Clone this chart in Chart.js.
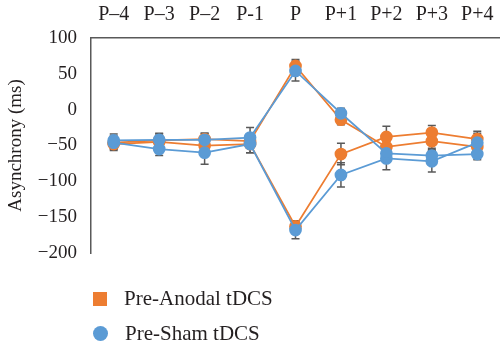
<!DOCTYPE html>
<html lang="en">
<head>
<meta charset="UTF-8">
<title>Asynchrony</title>
<script src="https://cdn.jsdelivr.net/npm/chart.js"></script>
<style>
    body { margin: 0; background: #fff; }
    .wrap { position: relative; width: 500px; height: 348px; overflow: hidden; }
    .legend {
        position: absolute; left: 93px; top: 281px;
        font-family: "Liberation Serif", "DejaVu Serif", serif;
        font-size: 21px; color: #231f20;
    }
    .item { display: flex; align-items: center; height: 35px; }
    .sw { width: 14px; height: 14px; margin-right: 17px; }
</style>
</head>
<body>
<div class="wrap">
    <canvas id="graf" width="500" height="348"></canvas>
    <div class="legend">
        <div class="item"><span class="sw" style="background:#ED7D31"></span>Pre-Anodal tDCS</div>
        <div class="item"><span class="sw" style="background:#5B9BD5;border-radius:50%;width:15px;height:15px"></span>Pre-Sham tDCS</div>
    </div>
</div>
<script>
    const categorias = ['P–4', 'P–3', 'P–2', 'P-1', 'P', 'P+1', 'P+2', 'P+3', 'P+4'];
    const yTicks = [100, 50, 0, -50, -100, -150, -200];

    // two curves per condition: one peaks at P, the other dips at P
    const anodalArriba = [-46, -43, -41, -44, 61, -14, -52, -44, -52];
    const anodalAbajo = [-48, -45, -50, -48, -163, -62, -38, -32, -41];
    const shamArriba = [-43, -42, -42, -39, 54, -5, -61, -64, -62];
    const shamAbajo = [-46, -55, -60, -48, -168, -91, -68, -72, -46];

    const errAnodalArriba = [9, 9, 8, 8, 9, 7, 8, 10, 8];
    const errAnodalAbajo = [9, 9, 9, 12, 8, 15, 15, 10, 11];
    const errShamArriba = [9, 9, 9, 14, 14, 7, 8, 8, 8];
    const errShamAbajo = [9, 9, 16, 12, 12, 17, 16, 15, 13];

    const naranja = '#ED7D31';
    const azul = '#5B9BD5';
    const gris = '#595959';

    function serie(datos, err, color, orden) {
        return {
            data: datos,
            err: err,
            borderColor: color,
            backgroundColor: color,
            pointBackgroundColor: color,
            pointBorderColor: color,
            pointRadius: 5.5,
            borderWidth: 1.75,
            tension: 0,
            order: orden
        };
    }

    const errorBars = {
        id: 'errorBars',
        beforeDatasetsDraw(chart) {
            const ctx = chart.ctx;
            const y = chart.scales.y;
            ctx.save();
            ctx.strokeStyle = gris;
            ctx.lineWidth = 1.5;
            chart.data.datasets.forEach((ds, i) => {
                const meta = chart.getDatasetMeta(i);
                meta.data.forEach((p, j) => {
                    const top = y.getPixelForValue(ds.data[j] + ds.err[j]);
                    const bot = y.getPixelForValue(ds.data[j] - ds.err[j]);
                    ctx.beginPath();
                    ctx.moveTo(p.x, top); ctx.lineTo(p.x, bot);
                    ctx.moveTo(p.x - 4, top); ctx.lineTo(p.x + 4, top);
                    ctx.moveTo(p.x - 4, bot); ctx.lineTo(p.x + 4, bot);
                    ctx.stroke();
                });
            });
            ctx.restore();
        }
    };

    const serif = '"Liberation Serif", "DejaVu Serif", serif';

    new Chart(graf, {
        type: 'line',
        data: {
            labels: categorias,
            datasets: [
                serie(anodalArriba, errAnodalArriba, naranja, 1),
                serie(anodalAbajo, errAnodalAbajo, naranja, 1),
                serie(shamArriba, errShamArriba, azul, 0),
                serie(shamAbajo, errShamAbajo, azul, 0)
            ]
        },
        options: {
            responsive: false,
            animation: false,
            layout: { autoPadding: false, padding: { left: 0, right: 0, top: 0, bottom: 95 } },
            plugins: { legend: { display: false }, tooltip: { enabled: false } },
            scales: {
                x: {
                    position: 'top',
                    offset: true,
                    afterFit: axis => { axis.height = 38; axis.paddingRight = 0; axis.paddingLeft = 0; },
                    grid: { display: false, drawTicks: true, offset: false, tickLength: 8, color: gris },
                    border: { color: gris, width: 1.5 },
                    ticks: { color: '#231f20', font: { family: serif, size: 20 }, padding: 3, maxRotation: 0 }
                },
                y: {
                    min: -200,
                    max: 100,
                    afterBuildTicks: axis => { axis.ticks = yTicks.map(v => ({ value: v })); },
                    afterFit: axis => { axis.width = 91; },
                    grid: { display: false, drawTicks: true, tickLength: 9, color: gris },
                    border: { color: gris, width: 1.5 },
                    ticks: {
                        color: '#231f20', font: { family: serif, size: 19 }, padding: 5,
                        callback: v => String(v).replace('-', '\u2212')
                    },
                    title: { display: true, text: 'Asynchrony (ms)', color: '#231f20', font: { family: serif, size: 19 }, padding: { top: 5, bottom: 0 } }
                }
            }
        },
        plugins: [errorBars]
    });
</script>
</body>
</html>
